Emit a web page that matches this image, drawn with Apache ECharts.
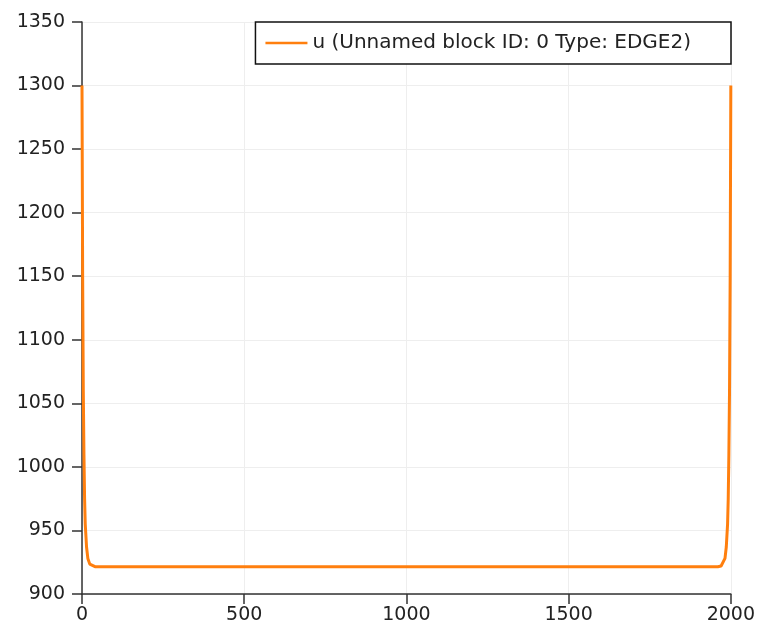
<!DOCTYPE html>
<html>
<head>
<meta charset="utf-8">
<script src="https://cdn.jsdelivr.net/npm/echarts@6/dist/echarts.min.js"></script>
<style>
  html, body { margin: 0; padding: 0; background: #fff; }
  #chart { width: 758px; height: 626px; }
</style>
</head>
<body>
<div id="chart"></div>
<script>
// Solution u along the 1D edge mesh: steep boundary layers at both ends
const seriesName = 'u (Unnamed block ID: 0 Type: EDGE2)';
const xPos = [0, 2, 4, 6, 8, 10, 14, 18, 24, 30, 40, 100, 200, 300, 400, 500, 600, 700, 800, 900,
  1000, 1100, 1200, 1300, 1400, 1500, 1600, 1700, 1800, 1900, 1960, 1970, 1976, 1982, 1986,
  1990, 1992, 1994, 1996, 1998, 2000];
const uVals = [1300, 1150, 1060, 1010, 975, 955, 937, 928, 923.5, 922, 921.5, 921.5, 921.5, 921.5,
  921.5, 921.5, 921.5, 921.5, 921.5, 921.5, 921.5, 921.5, 921.5, 921.5, 921.5, 921.5, 921.5,
  921.5, 921.5, 921.5, 921.5, 922, 923.5, 928, 937, 955, 975, 1010, 1060, 1150, 1300];
const xTicks = { min: 0, max: 2000, interval: 500 };
const yTicks = { min: 900, max: 1350, interval: 50 };

const points = xPos.map((x, i) => [x, uVals[i]]);
const font = 'DejaVu Sans';
const plain = v => String(v);

const chart = echarts.init(document.getElementById('chart'), null, { renderer: 'canvas' });
chart.setOption({
  animation: false,
  backgroundColor: '#ffffff',
  grid: { left: 82, right: 27, top: 22, bottom: 32 },
  legend: {
    right: 27, top: 22,
    orient: 'vertical',
    backgroundColor: '#ffffff',
    borderColor: '#111',
    borderWidth: 1.5,
    padding: [11, 40, 11, 10],
    itemWidth: 42, itemHeight: 20, itemGap: 8,
    textStyle: { fontFamily: font, fontSize: 20, color: '#222' },
    data: [{ name: seriesName, icon: 'path://M0,8.8 L42,8.8 L42,11.2 L0,11.2 Z' }]
  },
  xAxis: {
    type: 'value', min: xTicks.min, max: xTicks.max, interval: xTicks.interval,
    axisLine: { show: true, onZero: false, lineStyle: { color: '#333', width: 1.5 } },
    axisTick: { show: true, length: 10, lineStyle: { color: '#333', width: 1.5 } },
    axisLabel: { fontFamily: font, fontSize: 19, color: '#222', margin: 12, formatter: plain },
    splitLine: { show: true, lineStyle: { color: '#eeeeee', width: 1 } }
  },
  yAxis: {
    type: 'value', min: yTicks.min, max: yTicks.max, interval: yTicks.interval,
    axisLine: { show: true, onZero: false, lineStyle: { color: '#333', width: 1.5 } },
    axisTick: { show: true, length: 10, lineStyle: { color: '#333', width: 1.5 } },
    axisLabel: { fontFamily: font, fontSize: 19, color: '#222', margin: 17, formatter: plain },
    splitLine: { show: true, lineStyle: { color: '#eeeeee', width: 1 } }
  },
  series: [{
    name: seriesName,
    type: 'line',
    data: points,
    showSymbol: false,
    smooth: false,
    color: '#ff7f0e',
    lineStyle: { color: '#ff7f0e', width: 3 }
  }]
});
</script>
</body>
</html>
